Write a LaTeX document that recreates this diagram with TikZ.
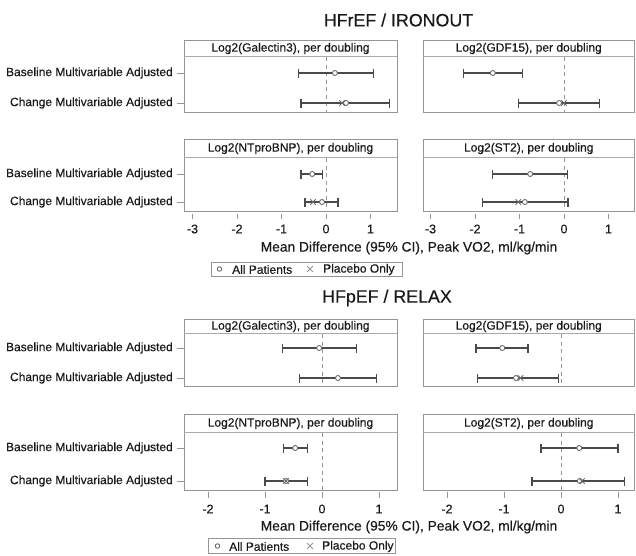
\documentclass[tikz,border=0pt]{standalone}
\usepackage{fontspec}
\setmainfont{Liberation Sans}[FakeBold=0.35]
\usetikzlibrary{shapes.misc}
\definecolor{txt}{HTML}{1A1A1A}
\definecolor{frm}{HTML}{959595}
\definecolor{barc}{HTML}{4A4A4A}
\definecolor{mk}{HTML}{6A6A6A}
\tikzset{
 frame/.style={draw=frm, line width=1pt},
 sepline/.style={draw=frm!80, line width=0.8pt},
 refline/.style={draw=frm, line width=1pt, dash pattern=on 4pt off 3.5pt},
 barline/.style={draw=barc, line width=1.2pt},
 circmark/.style={circle, draw=mk, fill=white, line width=0.9pt, minimum size=5pt, inner sep=0pt},
 crossmark/.style={cross out, draw=mk, line width=0.9pt, minimum size=4.5pt, inner sep=0pt},
 hdr/.style={font=\fontsize{12}{14}\selectfont, text=txt, inner sep=0pt},
 rowlab/.style={font=\fontsize{12}{14}\selectfont, text=txt, anchor=east, inner sep=0pt},
 ticklab/.style={font=\fontsize{12.5}{14}\selectfont, text=txt, inner sep=0pt},
 axlab/.style={font=\fontsize{13.8}{16}\selectfont, text=txt, inner sep=0pt},
 ttl/.style={font=\fontsize{17.8}{20}\selectfont, text=txt, inner sep=0pt},
 leg/.style={font=\fontsize{12}{14}\selectfont, text=txt, inner sep=0pt, anchor=west},
 tickline/.style={draw=frm, line width=1pt},
}
\newcommand{\ebar}[3]{%
 \draw[barline] (#2,#1) -- (#3,#1);
 \draw[barline] (#2,#1-4.5) -- (#2,#1+4.5);
 \draw[barline] (#3,#1-4.5) -- (#3,#1+4.5);}
\newcommand{\fframe}[7]{%
 \draw[frame] (#1,#3) rectangle (#2,#5);
 \draw[sepline] (#1,#4) -- (#2,#4);
 \node[hdr] (#7) at ({(#1+#2)/2},{(#3+#4)/2+0.5}) {#6};}
\begin{document}
\begin{tikzpicture}[x=1pt,y=-1pt]
\useasboundingbox[fill=white] (0,0) rectangle (636,555);
% titles
\node[ttl] (t1) at (398.5,20) {HFrEF / IRONOUT};
\node[ttl] (t2) at (387,298) {HFpEF / RELAX};
% row labels
\foreach \yy/\nm in {73/a,174/b,348/c,448/d}{
 \node[rowlab] (base\nm) at (173,\yy) {Baseline Multivariable Adjusted};
 \draw[tickline] (177,\yy) -- (184,\yy);}
\foreach \yy/\nm in {103/a,202/b,378/c,481/d}{
 \node[rowlab] (chg\nm) at (173,\yy) {Change Multivariable Adjusted};
 \draw[tickline] (177,\yy) -- (184,\yy);}
% ---------------- top section ----------------
\fframe{184}{397}{40}{56}{112}{Log2(Galectin3), per doubling}{h1}
\fframe{423}{634.5}{40}{56}{112}{Log2(GDF15), per doubling}{h2}
\fframe{184}{397}{139}{157}{211}{Log2(NTproBNP), per doubling}{h3}
\fframe{423}{634.5}{139}{157}{211}{Log2(ST2), per doubling}{h4}
\begin{scope}[shift={(326,0)},x=44.5pt]
 \draw[refline] (0,57) -- (0,112);
 \ebar{73}{-0.61}{1.06} \node[circmark] (m1) at (0.2,73) {};
 \ebar{103}{-0.56}{1.42} \node[crossmark] (m2) at (0.36,103) {}; \node[circmark] (m3) at (0.45,103) {};
 \draw[refline] (0,158) -- (0,211);
 \ebar{174}{-0.56}{-0.07} \node[circmark] (m4) at (-0.31,174) {};
 \ebar{202}{-0.47}{0.27} \node[crossmark] (m5) at (-0.29,202) {}; \node[circmark] (m6) at (-0.09,202) {};
 \foreach \v in {-3,...,1}{
  \draw[tickline] (\v,213.5) -- (\v,219);
  \node[ticklab] (ta\v) at (\v,229) {\v};}
\end{scope}
\begin{scope}[shift={(564,0)},x=44.5pt]
 \draw[refline] (0,57) -- (0,112);
 \ebar{73}{-2.25}{-0.94} \node[circmark] (m7) at (-1.6,73) {};
 \ebar{103}{-1.03}{0.79} \node[crossmark] (m8) at (0.0,103) {}; \node[circmark] (m9) at (-0.11,103) {};
 \draw[refline] (0,158) -- (0,211);
 \ebar{174}{-1.6}{0.07} \node[circmark] (m10) at (-0.76,174) {};
 \ebar{202}{-1.84}{0.09} \node[crossmark] (m11) at (-1.03,202) {}; \node[circmark] (m12) at (-0.88,202) {};
 \foreach \v in {-3,...,1}{
  \draw[tickline] (\v,213.5) -- (\v,219);
  \node[ticklab] (tb\v) at (\v,229) {\v};}
\end{scope}
\node[axlab] (xl1) at (409,248) {Mean Difference (95\% CI), Peak VO2, ml/kg/min};
\draw[frame, line width=0.8pt] (211,262) rectangle (402,276);
\node[circmark, minimum size=4.5pt] (lc1) at (219.5,269) {};
\node[leg] (la1) at (232,269.5) {All Patients};
\node[crossmark, minimum size=5pt, draw=frm] (lx1) at (310,269) {};
\node[leg] (lb1) at (323,269.5) {Placebo Only};
% ---------------- bottom section ----------------
\fframe{184}{397}{319}{333}{386}{Log2(Galectin3), per doubling}{h5}
\fframe{423}{634.5}{319}{333}{386}{Log2(GDF15), per doubling}{h6}
\fframe{184}{397}{414}{432}{490}{Log2(NTproBNP), per doubling}{h7}
\fframe{423}{634.5}{414}{432}{490}{Log2(ST2), per doubling}{h8}
\begin{scope}[shift={(322,0)},x=57pt]
 \draw[refline] (0,334) -- (0,386);
 \ebar{348}{-0.7}{0.6} \node[circmark] (n1) at (-0.05,348) {};
 \ebar{378}{-0.4}{0.96} \node[circmark] (n2) at (0.28,378) {};
 \draw[refline] (0,433) -- (0,490);
 \ebar{448}{-0.67}{-0.25} \node[circmark] (n3) at (-0.47,448) {};
 \ebar{481}{-1.0}{-0.25} \node[circmark] (n4) at (-0.63,481) {}; \node[crossmark] (n5) at (-0.63,481) {};
 \foreach \v in {-2,...,1}{
  \draw[tickline] (\v,492) -- (\v,497.5);
  \node[ticklab] (tc\v) at (\v,509) {\v};}
\end{scope}
\begin{scope}[shift={(561,0)},x=57pt]
 \draw[refline] (0,334) -- (0,386);
 \ebar{348}{-1.49}{-0.58} \node[circmark] (n6) at (-1.03,348) {};
 \ebar{378}{-1.47}{-0.05} \node[circmark] (n7) at (-0.79,378) {}; \node[crossmark] (n8) at (-0.71,378) {};
 \draw[refline] (0,433) -- (0,490);
 \ebar{448}{-0.35}{1.0} \node[circmark] (n9) at (0.32,448) {};
 \ebar{481}{-0.51}{1.12} \node[circmark] (n10) at (0.33,481) {}; \node[crossmark] (n11) at (0.37,481) {};
 \foreach \v in {-2,...,1}{
  \draw[tickline] (\v,492) -- (\v,497.5);
  \node[ticklab] (td\v) at (\v,509) {\v};}
\end{scope}
\node[axlab] (xl2) at (409,527) {Mean Difference (95\% CI), Peak VO2, ml/kg/min};
\draw[frame, line width=0.8pt] (208,538.5) rectangle (395,553);
\node[circmark, minimum size=4.5pt] (lc2) at (217.5,546) {};
\node[leg] (la2) at (229,546.5) {All Patients};
\node[crossmark, minimum size=5pt, draw=frm] (lx2) at (310,546) {};
\node[leg] (lb2) at (322,546.5) {Placebo Only};
\end{tikzpicture}
\end{document}
